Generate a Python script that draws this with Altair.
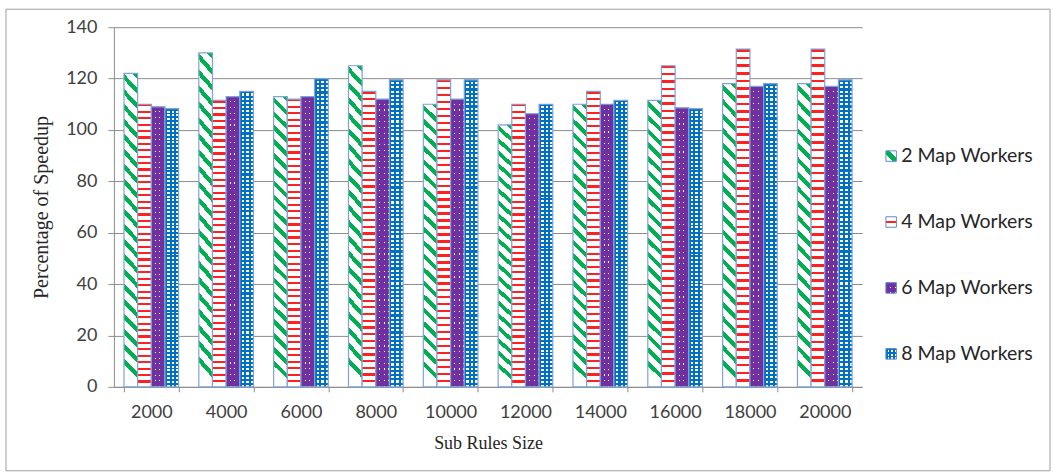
import altair as alt
import pandas as pd

sizes = ["2000", "4000", "6000", "8000", "10000", "12000", "14000", "16000", "18000", "20000"]
series = ["2 Map Workers", "4 Map Workers", "6 Map Workers", "8 Map Workers"]
w2 = [122, 130, 113, 125, 110, 102, 110, 111.5, 118, 118]
w4 = [110, 111.5, 112, 115, 119.5, 110, 115, 125, 131.5, 131.5]
w6 = [109, 113, 113, 112, 112, 106.3, 110, 108.6, 117, 117]
w8 = [108.3, 115, 120, 119.5, 119.5, 110, 111.5, 108.3, 118, 119.5]
yticks = [0, 20, 40, 60, 80, 100, 120, 140]

rows = []
for s, vals in zip(series, [w2, w4, w6, w8]):
    for c, v in zip(sizes, vals):
        rows.append({"size": c, "series": s, "value": v})
df = pd.DataFrame(rows)
legend_df = pd.DataFrame({"series": series})

GREEN = "#00B050"
RED = "#FF2020"
PURPLE = "#7030A0"
BLUE = "#0070C0"
OUTLINE = "#7FA3D8"
GRID = "#8C8C8C"
CLEAR = "rgba(255,255,255,0)"


def stripes(color, bg, n, frac, x1, y1, x2, y2):
    stops = []
    for i in range(n):
        s = round(i / n, 5)
        e = round((i + frac) / n, 5)
        f = round((i + 1) / n, 5)
        stops += [
            alt.GradientStop(color=color, offset=s),
            alt.GradientStop(color=color, offset=e),
            alt.GradientStop(color=bg, offset=e),
            alt.GradientStop(color=bg, offset=f),
        ]
    return alt.LinearGradient(gradient="linear", stops=stops, x1=x1, y1=y1, x2=x2, y2=y2)


g_diag = stripes(GREEN, "white", 21, 0.4, 1, 0, 1 - 0.0465, 1)
g_horiz = stripes(RED, "white", 44, 0.33, 0, 0, 0, 1)
g_blue_rows = stripes(BLUE, "white", 72, 0.5, 0, 0, 0, 1)
g_blue_cols = stripes(BLUE, CLEAR, 3, 0.45, 0, 0, 1, 0)
g_purple_rows = stripes(PURPLE, CLEAR, 50, 0.8, 0, 0, 0, 1)
g_purple_cols = stripes(PURPLE, CLEAR, 3, 0.78, 0, 0, 1, 0)

# legend symbol fills
s_diag = alt.LinearGradient(gradient="linear", x1=0, y1=1, x2=1, y2=0, stops=[
    alt.GradientStop(color="white", offset=0), alt.GradientStop(color="white", offset=0.32),
    alt.GradientStop(color=GREEN, offset=0.32), alt.GradientStop(color=GREEN, offset=0.68),
    alt.GradientStop(color="white", offset=0.68), alt.GradientStop(color="white", offset=1)])
s_horiz = alt.LinearGradient(gradient="linear", x1=0, y1=0, x2=0, y2=1, stops=[
    alt.GradientStop(color="white", offset=0), alt.GradientStop(color="white", offset=0.38),
    alt.GradientStop(color=RED, offset=0.38), alt.GradientStop(color=RED, offset=0.62),
    alt.GradientStop(color="white", offset=0.62), alt.GradientStop(color="white", offset=1)])
s_rows = stripes(BLUE, "white", 3, 0.5, 0, 0, 0, 1)
s_cols = stripes(BLUE, CLEAR, 3, 0.5, 0, 0, 1, 0)
s_prows = stripes(PURPLE, CLEAR, 2, 0.75, 0, 0, 0, 1)
s_pcols = stripes(PURPLE, CLEAR, 2, 0.75, 0, 0, 1, 0)

x_enc = alt.X("size:N", sort=sizes,
              scale=alt.Scale(paddingInner=0.27, paddingOuter=0.135),
              axis=alt.Axis(title="Sub Rules Size", labelAngle=0, tickBand="extent",
                            tickSize=5, tickColor=GRID, domainColor=GRID,
                            labelFont="Lato", labelFontSize=18, labelColor="#404040",
                            labelPadding=12, titleFont="Liberation Serif", titleFontSize=18,
                            titleFontWeight="normal", titleColor="#262626", titlePadding=13))
xo_enc = alt.XOffset("series:N", scale=alt.Scale(domain=series))
y_enc = alt.Y("value:Q", scale=alt.Scale(domain=[0, 140], nice=False),
              axis=alt.Axis(title="Percentage of Speedup", values=yticks, grid=True,
                            gridColor=GRID, domainColor=GRID, tickColor=GRID, tickSize=6,
                            labelFont="Lato", labelFontSize=18, labelColor="#404040",
                            labelPadding=11, titleFont="Liberation Serif", titleFontSize=20,
                            titleFontWeight="normal", titleColor="#262626", titlePadding=14))

base = alt.Chart(df).encode(x=x_enc, xOffset=xo_enc, y=y_enc)


def sel(name):
    return alt.datum.series == name


bars = alt.layer(
    base.transform_filter(sel(series[0])).mark_bar(fill=g_diag, stroke=OUTLINE, strokeWidth=1.2),
    base.transform_filter(sel(series[1])).mark_bar(fill=g_horiz, stroke=OUTLINE, strokeWidth=1.2),
    base.transform_filter(sel(series[2])).mark_bar(fill="white", strokeWidth=0),
    base.transform_filter(sel(series[2])).mark_bar(fill=g_purple_rows, strokeWidth=0),
    base.transform_filter(sel(series[2])).mark_bar(fill=g_purple_cols, stroke=OUTLINE, strokeWidth=1.2),
    base.transform_filter(sel(series[3])).mark_bar(fill=g_blue_rows, strokeWidth=0),
    base.transform_filter(sel(series[3])).mark_bar(fill=g_blue_cols, stroke=OUTLINE, strokeWidth=1.2),
)

ly = alt.Y("series:N", scale=alt.Scale(domain=series, range=[96, 360], paddingInner=0, paddingOuter=0), axis=None)
lbase = alt.Chart(legend_df).encode(y=ly, x=alt.value(778))
sq = dict(size=110, opacity=1)
legend = alt.layer(
    lbase.transform_filter(sel(series[0])).mark_square(fill=s_diag, stroke="#5B8BD0", strokeWidth=1, **sq),
    lbase.transform_filter(sel(series[1])).mark_square(fill=s_horiz, stroke="#5B8BD0", strokeWidth=1, **sq),
    lbase.transform_filter(sel(series[2])).mark_square(fill="white", strokeWidth=0, **sq),
    lbase.transform_filter(sel(series[2])).mark_square(fill=s_prows, strokeWidth=0, **sq),
    lbase.transform_filter(sel(series[2])).mark_square(fill=s_pcols, stroke="#5B8BD0", strokeWidth=1, **sq),
    lbase.transform_filter(sel(series[3])).mark_square(fill=s_rows, strokeWidth=0, **sq),
    lbase.transform_filter(sel(series[3])).mark_square(fill=s_cols, stroke="#5B8BD0", strokeWidth=1, **sq),
    alt.Chart(legend_df).mark_text(align="left", baseline="middle", font="Lato", fontSize=19.5, color="#262626")
    .encode(y=ly, x=alt.value(788), text="series:N"),
)

frame = alt.Chart(pd.DataFrame({"a": [0]})).mark_rect(filled=False, stroke="#A0A0A0", strokeWidth=1).encode(
    x=alt.value(-108), x2=alt.value(937), y=alt.value(-18), y2=alt.value(444))

chart = alt.layer(bars, legend, frame).resolve_scale(y="independent").properties(
    width=749, height=360,
    padding={"left": 5, "top": 8, "right": 4, "bottom": 2},
    background="white",
).configure_view(stroke=None)

chart.save("out.html", embed_options={"renderer": "svg", "actions": False})
